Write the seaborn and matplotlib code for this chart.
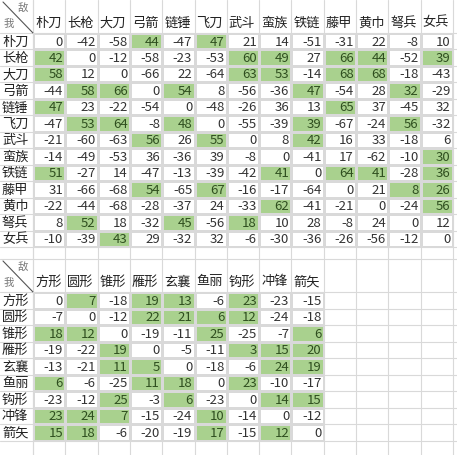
import numpy as np
import matplotlib
matplotlib.use("Agg")
import matplotlib.pyplot as plt
import seaborn as sns
from matplotlib.colors import ListedColormap

sns.set_theme(style="white")
plt.rcParams['font.family'] = ['Noto Sans CJK SC', 'DejaVu Sans']

top_labels = ["朴刀", "长枪", "大刀", "弓箭", "链锤", "飞刀", "武斗", "蛮族", "铁链", "藤甲", "黄巾", "弩兵", "女兵"]
top_values = [
    [0, -42, -58, 44, -47, 47, 21, 14, -51, -31, 22, -8, 10],
    [42, 0, -12, -58, -23, -53, 60, 49, 27, 66, 44, -52, 39],
    [58, 12, 0, -66, 22, -64, 63, 53, -14, 68, 68, -18, -43],
    [-44, 58, 66, 0, 54, 8, -56, -36, 47, -54, 28, 32, -29],
    [47, 23, -22, -54, 0, -48, -26, 36, 13, 65, 37, -45, 32],
    [-47, 53, 64, -8, 48, 0, -55, -39, 39, -67, -24, 56, -32],
    [-21, -60, -63, 56, 26, 55, 0, 8, 42, 16, 33, -18, 6],
    [-14, -49, -53, 36, -36, 39, -8, 0, -41, 17, -62, -10, 30],
    [51, -27, 14, -47, -13, -39, -42, 41, 0, 64, 41, -28, 36],
    [31, -66, -68, 54, -65, 67, -16, -17, -64, 0, 21, 8, 26],
    [-22, -44, -68, -28, -37, 24, -33, 62, -41, -21, 0, -24, 56],
    [8, 52, 18, -32, 45, -56, 18, 10, 28, -8, 24, 0, 12],
    [-10, -39, 43, 29, -32, 32, -6, -30, -36, -26, -56, -12, 0],
]
top_green = [
    "0001010000000",
    "1000001101101",
    "1000001101100",
    "0110100010010",
    "1000000001000",
    "0110100010010",
    "0001010010000",
    "0000000000001",
    "1000000101101",
    "0001010000011",
    "0000000100001",
    "0100101000000",
    "0010000000000",
]

bot_labels = ["方形", "圆形", "锥形", "雁形", "玄襄", "鱼丽", "钩形", "冲锋", "箭矢"]
bot_values = [
    [0, 7, -18, 19, 13, -6, 23, -23, -15],
    [-7, 0, -12, 22, 21, 6, 12, -24, -18],
    [18, 12, 0, -19, -11, 25, -25, -7, 6],
    [-19, -22, 19, 0, -5, -11, 3, 15, 20],
    [-13, -21, 11, 5, 0, -18, -6, 24, 19],
    [6, -6, -25, 11, 18, 0, 23, -10, -17],
    [-23, -12, 25, -3, 6, -23, 0, 14, 15],
    [23, 24, 7, -15, -24, 10, -14, 0, -12],
    [15, 18, -6, -20, -19, 17, -15, 12, 0],
]

W, H = 457, 455
GREEN = "#a9d18e"
GRID = "#d9d9d9"
CW = 32.3
X0 = 33
fig = plt.figure(figsize=(W / 100, H / 100), dpi=100)
ax0 = fig.add_axes([0, 0, 1, 1])
ax0.set_xlim(0, W); ax0.set_ylim(H, 0); ax0.axis("off")

# sheet grid
for k in range(15):
    ax0.axvline(X0 + CW * k, color=GRID, lw=0.8)
ax0.axvline(X0, color=GRID, lw=0.8)
ty0, trh = 33, 16.46
by0, brh = 292, 16.5
hlines = [ty0 + trh * k for k in range(14)] + [259] + [by0 + brh * k for k in range(10)]
for y in hlines:
    ax0.axhline(y, color=GRID, lw=0.8)

def table(labels, values, green, ytop, rh, header_top):
    n = len(labels)
    m = np.array(green, dtype=float)
    ax = fig.add_axes([X0 / W, 1 - (ytop + rh * n) / H, CW * n / W, rh * n / H])
    sns.heatmap(m, ax=ax, cmap=ListedColormap(["white", GREEN]), vmin=0, vmax=1,
                cbar=False, linewidths=0.8, linecolor=GRID)
    ax.set_xticks([]); ax.set_yticks([])
    for i in range(n):
        for j in range(n):
            ax.text(j + 0.93, i + 0.55, str(values[i][j]), ha="right", va="center",
                    fontsize=9.5, color="#2f4f1f" if m[i, j] else "#333333")
    for i, lab in enumerate(labels):
        ax0.text(2, ytop + rh * (i + 0.55), lab, ha="left", va="center", fontsize=9.5, color="#222")
        ax0.text(X0 + CW * i + 2, ytop - 10, lab, ha="left", va="center", fontsize=9.5, color="#222")
    ax0.plot([3, X0], [header_top + 2, ytop], color="#555", lw=0.8)
    ax0.text(18, header_top + 8, "敌", fontsize=7.5, style="italic", color="#777", ha="left", va="center")
    ax0.text(4, ytop - 9, "我", fontsize=7.5, style="italic", color="#777", ha="left", va="center")

top_mask = [[int(c) for c in r] for r in top_green]
bot_mask = [[1 if v > 0 else 0 for v in r] for r in bot_values]
table(top_labels, top_values, top_mask, ty0, trh, 0)
table(bot_labels, bot_values, bot_mask, by0, brh, 259)

fig.savefig("out.png", dpi=100)
